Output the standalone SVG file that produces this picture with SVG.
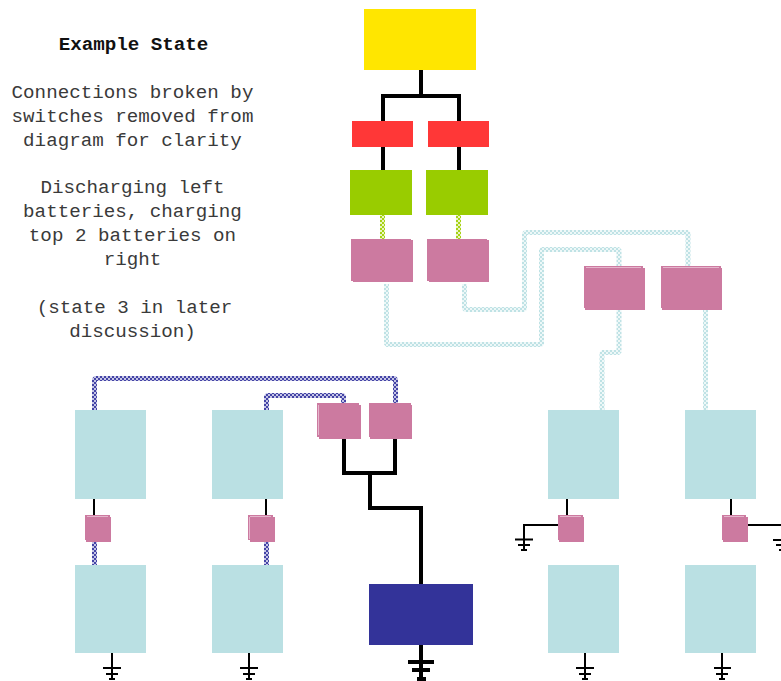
<svg xmlns="http://www.w3.org/2000/svg" width="781" height="681" viewBox="0 0 781 681">
<style>
text{font-family:"Liberation Mono","Courier New",monospace;font-size:19.2px;fill:#3a3a3a;text-anchor:middle}
.pk{fill:#CC7AA0}.bat{fill:#BAE0E3}.hl{stroke:#E5B5CC;stroke-width:1;fill:none}
.k2,.k4,.dl,.db,.dg{fill:none}.k2{stroke:#000;stroke-width:2}.k4{stroke:#000;stroke-width:4}
.dl{stroke:url(#pl);stroke-width:5;stroke-linejoin:bevel}.db{stroke:url(#pb);stroke-width:5;stroke-linejoin:bevel}.dg{stroke:url(#pg);stroke-width:5}
</style>
<defs>
<pattern id="pl" width="4" height="4" patternUnits="userSpaceOnUse"><rect width="4" height="4" fill="#EEF8F8"/><rect width="2" height="2" fill="#BFE2E5"/><rect x="2" y="2" width="2" height="2" fill="#BFE2E5"/></pattern>
<pattern id="pb" width="4" height="4" patternUnits="userSpaceOnUse"><rect width="4" height="4" fill="#C6C6E6"/><rect width="2" height="2" fill="#4444A6"/><rect x="2" y="2" width="2" height="2" fill="#4444A6"/></pattern>
<pattern id="pg" width="4" height="4" patternUnits="userSpaceOnUse"><rect width="4" height="4" fill="#EAF5C4"/><rect width="2" height="2" fill="#A6D214"/><rect x="2" y="2" width="2" height="2" fill="#A6D214"/></pattern>
</defs>
<g id="caption">
<text x="133.500" y="50" font-weight="bold" style="fill:#111">Example State</text>
<text x="132.500" y="98">Connections broken by</text>
<text x="132.500" y="122">switches removed from</text>
<text x="132.500" y="146">diagram for clarity</text>
<text x="132.500" y="193">Discharging left</text>
<text x="132.500" y="217">batteries, charging</text>
<text x="132.500" y="241">top 2 batteries on</text>
<text x="132.500" y="265">right</text>
<text x="134.500" y="313">(state 3 in later</text>
<text x="132.500" y="337">discussion)</text>
</g>
<g id="connectors">
<path class="k4" d="M421 70V96M381 96H461M383 96V170M459 96V170"/>
<path class="dg" d="M382.500 215V242M458.500 215V242"/>
<path class="dl" d="M386.500 284V344.500H541.500V249.500H619V267"/>
<path class="dl" d="M464.500 284V309.500H524.500V232.500H688V267"/>
<path class="dl" d="M619 309V352.500H602V412"/>
<path class="dl" d="M705.500 309V412"/>
<path class="db" d="M94.500 413V378.500H395.500V405"/>
<path class="db" d="M266.500 413V395.500H343.500V405"/>
<path class="db" d="M94.500 541V568M266.500 541V568"/>
<path class="k4" d="M344 438V473M395 438V473M342 473H397M370 473V508H421V584M421 645V680"/>
<path class="k4" d="M408 662H434M412 670H430M417 679H426"/>
<path class="k2" d="M94 498V516M266 498V516M567 498V516M731 498V516"/>
<path class="k2" d="M558 525H524V550M515 539.500H533M518 545H530M521 550H527"/>
<path class="k2" d="M748 525H781M773 540H781M776 545H781M779 550H781"/>
<path class="k2" d="M112 653V680M103 668H121M106 674H118M109 679H115"/>
<path class="k2" d="M249 653V680M240 668H258M243 674H255M246 679H252"/>
<path class="k2" d="M585 653V680M576 668H594M579 674H591M582 679H588"/>
<path class="k2" d="M722 653V680M714 668H731M716 674H728M719 679H725"/>
</g>
<g id="source"><rect x="364" y="9" width="112" height="61" fill="#FFE600"/></g>
<g id="fuse-left"><rect x="352" y="121" width="61" height="26" fill="#FF3737"/></g>
<g id="fuse-right"><rect x="428" y="121" width="61" height="26" fill="#FF3737"/></g>
<g id="charger-left"><rect x="350" y="170" width="62" height="45" fill="#99CC00"/></g>
<g id="charger-right"><rect x="426" y="170" width="62" height="45" fill="#99CC00"/></g>
<g id="switch-top-left"><rect class="pk" x="351" y="239" width="60" height="42"/><rect class="pk" x="353" y="240" width="60" height="42"/></g>
<g id="switch-top-right"><rect class="pk" x="427" y="239" width="60" height="42"/><rect class="pk" x="429" y="240" width="60" height="42"/></g>
<g id="switch-right-a"><rect class="pk" x="584" y="266" width="59" height="42"/><rect class="pk" x="585" y="268" width="60" height="42"/><path class="hl" d="M586 267.500H641"/></g>
<g id="switch-right-b"><rect class="pk" x="661" y="266" width="60" height="42"/><rect class="pk" x="662" y="268" width="60" height="42"/><path class="hl" d="M663 267.500H719"/></g>
<g id="switch-left-a"><rect class="pk" x="317" y="403" width="42" height="34"/><rect class="pk" x="319" y="405" width="42" height="34"/><path class="hl" d="M318.500 405V435"/></g>
<g id="switch-left-b"><rect class="pk" x="369" y="403" width="42" height="34"/><rect class="pk" x="370" y="405" width="42" height="34"/></g>
<g id="battery-1a"><rect class="bat" x="75" y="410" width="71" height="89"/></g>
<g id="battery-1b"><rect class="bat" x="75" y="565" width="71" height="88"/></g>
<g id="battery-2a"><rect class="bat" x="212" y="410" width="71" height="89"/></g>
<g id="battery-2b"><rect class="bat" x="212" y="565" width="71" height="88"/></g>
<g id="battery-3a"><rect class="bat" x="548" y="410" width="71" height="89"/></g>
<g id="battery-3b"><rect class="bat" x="548" y="565" width="71" height="88"/></g>
<g id="battery-4a"><rect class="bat" x="685" y="410" width="71" height="89"/></g>
<g id="battery-4b"><rect class="bat" x="685" y="565" width="71" height="88"/></g>
<g id="switch-1"><rect class="pk" x="85" y="515" width="25" height="25"/><rect class="pk" x="86" y="517" width="25" height="25"/><path class="hl" d="M87 516.500H108"/></g>
<g id="switch-2"><rect class="pk" x="248" y="515" width="25" height="25"/><rect class="pk" x="250" y="517" width="25" height="25"/><path class="hl" d="M249.500 517V539M250 516.500H271"/></g>
<g id="switch-3"><rect class="pk" x="558" y="515" width="25" height="25"/><rect class="pk" x="559" y="517" width="25" height="25"/><path class="hl" d="M560 516.500H581"/></g>
<g id="switch-4"><rect class="pk" x="722" y="515" width="24" height="25"/><rect class="pk" x="723" y="517" width="25" height="25"/><path class="hl" d="M724 516.500H744"/></g>
<g id="load"><rect x="369" y="584" width="104" height="61" fill="#333399"/></g>
</svg>
